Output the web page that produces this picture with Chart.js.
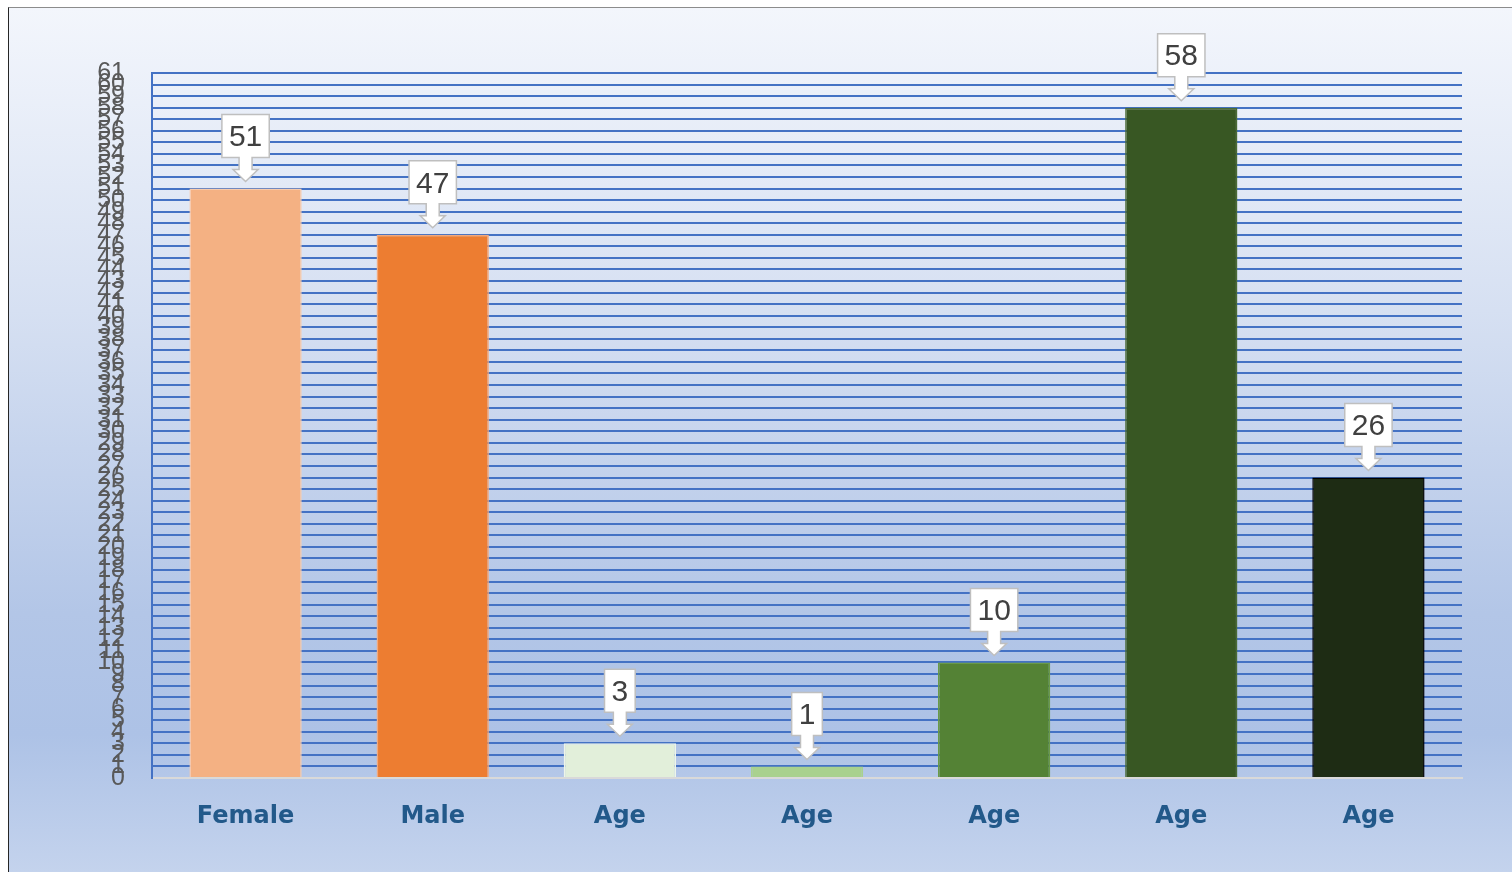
<!DOCTYPE html>
<html>
<head>
<meta charset="utf-8">
<script src="https://cdn.jsdelivr.net/npm/chart.js"></script>
<style>
  html, body { margin: 0; padding: 0; background: #fff; }
  body { width: 1512px; height: 872px; position: relative; overflow: hidden; }
  .frame {
    position: absolute; left: 8px; top: 7px; right: 0; bottom: 0;
    border-left: 1.5px solid #262626; border-top: 1.5px solid #8c8c8c;
    background: linear-gradient(to bottom, #f3f6fc 0%, #d6e0f2 35%, #b3c6e7 70%, #adc2e6 84%, #c4d3ed 100%);
  }
  #myChart { position: absolute; left: 0; top: 0; }
</style>
</head>
<body>
<div class="frame"></div>
<canvas id="myChart" width="1512" height="872"></canvas>

<script>
  // chart data
  const categories = ['Female', 'Male', 'Age', 'Age', 'Age', 'Age', 'Age'];
  const counts = [51, 47, 3, 1, 10, 58, 26];
  const barColors = ['#f4b183', '#ed7d31', '#e2efda', '#a9d18e', '#548235', '#385723', '#1e2c14'];
  const barBorders = ['#f8cbad', '#f4a87a', '#eef5e9', '#a9d18e', '#6a9a48', '#4a6b35', '#000000'];
  const yMin = 0;
  const yMax = 61;

  // white callout box with a down arrow above every bar
  const calloutPlugin = {
    id: 'callouts',
    afterDatasetsDraw(chart) {
      const c = chart.ctx;
      const meta = chart.getDatasetMeta(0);
      c.save();
      c.font = '30px "Liberation Sans", Arial, sans-serif';
      c.textAlign = 'center';
      c.textBaseline = 'middle';
      meta.data.forEach((bar, i) => {
        const txt = String(counts[i]);
        const w = c.measureText(txt).width + 14;
        const tip = bar.y - 7;
        const headTop = tip - 12;
        const boxBottom = headTop - 12;
        const boxTop = boxBottom - 43;
        const x = bar.x;
        c.beginPath();
        c.moveTo(x - w / 2, boxTop);
        c.lineTo(x + w / 2, boxTop);
        c.lineTo(x + w / 2, boxBottom);
        c.lineTo(x + 6.5, boxBottom);
        c.lineTo(x + 6.5, headTop);
        c.lineTo(x + 12.5, headTop);
        c.lineTo(x, tip);
        c.lineTo(x - 12.5, headTop);
        c.lineTo(x - 6.5, headTop);
        c.lineTo(x - 6.5, boxBottom);
        c.lineTo(x - w / 2, boxBottom);
        c.closePath();
        c.fillStyle = '#ffffff';
        c.fill();
        c.strokeStyle = '#bfbfbf';
        c.lineWidth = 1.5;
        c.stroke();
        c.fillStyle = '#404040';
        c.fillText(txt, x, (boxTop + boxBottom) / 2 + 2);
      });
      c.restore();
    }
  };

  const ctx = document.getElementById('myChart').getContext('2d');
  new Chart(ctx, {
    type: 'bar',
    data: {
      labels: categories,
      datasets: [{
        data: counts,
        backgroundColor: barColors,
        borderColor: barBorders,
        borderWidth: 1.5,
        barPercentage: 0.6,
        categoryPercentage: 1
      }]
    },
    options: {
      responsive: false,
      devicePixelRatio: 1,
      animation: false,
      layout: { padding: { left: 0, right: 50, top: 73, bottom: 0 } },
      plugins: {
        legend: { display: false },
        tooltip: { enabled: false }
      },
      scales: {
        x: {
          grid: { display: false },
          border: { display: true, color: '#d9d9d9', width: 2 },
          ticks: {
            padding: 16,
            color: '#22598a',
            font: { family: '"DejaVu Sans", Verdana, sans-serif', size: 24, weight: 'bold' }
          },
          afterFit: (s) => { s.height = 94; }
        },
        y: {
          min: yMin,
          max: yMax,
          grid: {
            drawTicks: false,
            lineWidth: 2,
            color: (c) => (c.tick && c.tick.value === 0 ? 'rgba(0,0,0,0)' : '#4472c4')
          },
          border: { display: true, color: '#4472c4', width: 2 },
          ticks: {
            stepSize: 1,
            autoSkip: false,
            padding: 27,
            color: '#595959',
            font: { family: '"Liberation Sans", Arial, sans-serif', size: 25 }
          },
          afterFit: (s) => { s.width = 152; }
        }
      }
    },
    plugins: [calloutPlugin]
  });
</script>
</body>
</html>
